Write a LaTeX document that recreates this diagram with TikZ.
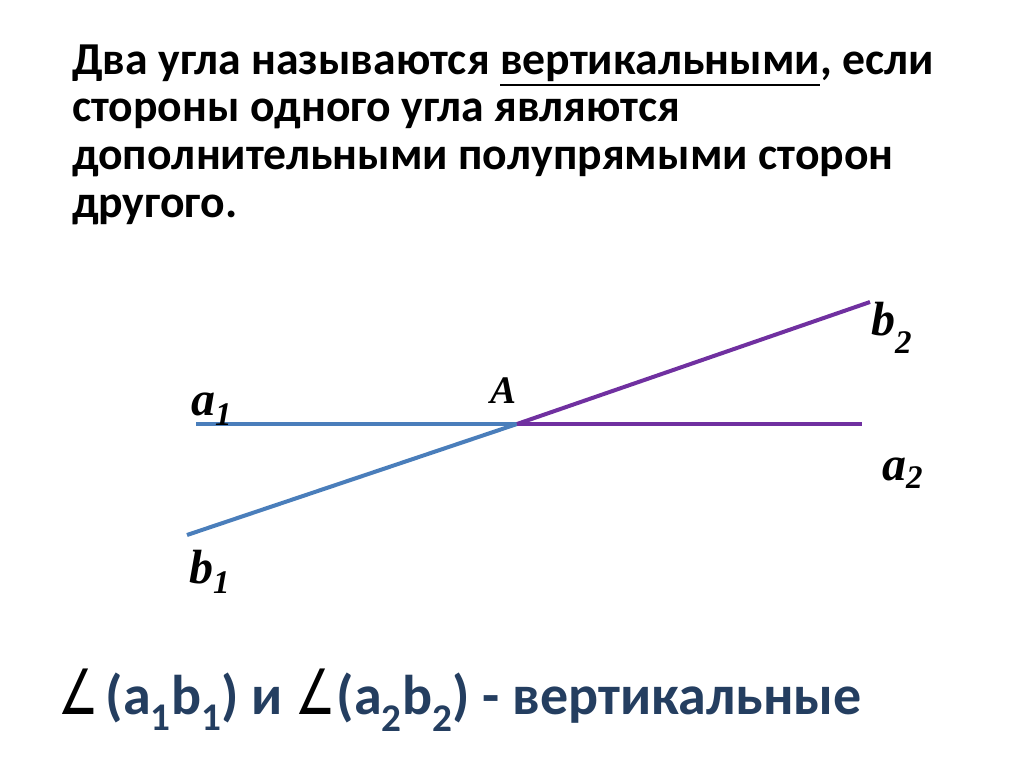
\documentclass[tikz,border=0pt]{standalone}
\usepackage{fontspec}
\setmainfont{Carlito}
\newfontfamily\lblfont{Liberation Serif}
\newfontfamily\symfont{DejaVu Sans}
\definecolor{rayblue}{RGB}{74,126,187}
\definecolor{raypurple}{RGB}{112,48,160}
\definecolor{notedark}{RGB}{36,62,96}
% underlined word
\newcommand{\wordline}[1]{\setbox0\hbox{#1}\rlap{\rule[-11pt]{\wd0}{2.2pt}}\box0}
% letter with its index: letter, index, drop of the index
\newcommand{\raylbl}[3]{{\lblfont\bfseries\itshape\fontsize{48}{48}\selectfont #1\raisebox{-#3pt}{\fontsize{33}{33}\selectfont #2}}}
% angle sign
\newcommand{\angsign}{\textcolor{black}{\symfont\mdseries\fontsize{50}{50}\selectfont\scalebox{0.9}[1.25]{∠}}}
\tikzset{
  ray/.style={line width=4pt},
  textline/.style={anchor=base west,inner sep=0pt,font=\bfseries\fontsize{45.7}{47}\selectfont},
  lbl/.style={anchor=base west,inner sep=0pt}
}

\begin{document}
\begin{tikzpicture}[x=1pt,y=-1pt]
  \useasboundingbox (0,0) rectangle (1024,767);
  % definition
  \node[textline] (L1) at (72,75) {Два угла называются \wordline{вертикальными}, если};
  \node[textline] (L2) at (72,122) {стороны одного угла являются};
  \node[textline] (L3) at (72,170) {дополнительными полупрямыми сторон};
  \node[textline] (L4) at (72,218) {другого.};
  % the two angles
  \coordinate (A) at (517,424);
  \coordinate (a1) at (196,424);
  \coordinate (b1) at (187,535);
  \coordinate (a2) at (862,424);
  \coordinate (b2) at (870,302);
  \draw [ray,rayblue] (a1) -- (A);
  \draw [ray,rayblue] (b1) -- (A);
  \draw [ray,raypurple] (A) -- (a2);
  \draw [ray,raypurple] (A) -- (b2);
  \node[lbl] (la1) at (191,415) {\raylbl{a}{1}{10}};
  \node[lbl] (lb1) at (189,583) {\raylbl{b}{1}{10}};
  \node[lbl] (lA) at (490,403) {\lblfont\bfseries\itshape\fontsize{39}{39}\selectfont A};
  \node[lbl] (lb2) at (871,335) {\raylbl{b}{2}{18}};
  \node[lbl] (la2) at (882,480) {\raylbl{a}{2}{8}};
  % conclusion
  \node[lbl,font=\bfseries\fontsize{56}{56}\selectfont,text=notedark] (res) at (58,714)
    {\angsign\kern7pt(a\textsubscript{1}b\textsubscript{1}) и \angsign\kern1pt(a\textsubscript{2}b\textsubscript{2}) - вертикальные};
\end{tikzpicture}
\end{document}
